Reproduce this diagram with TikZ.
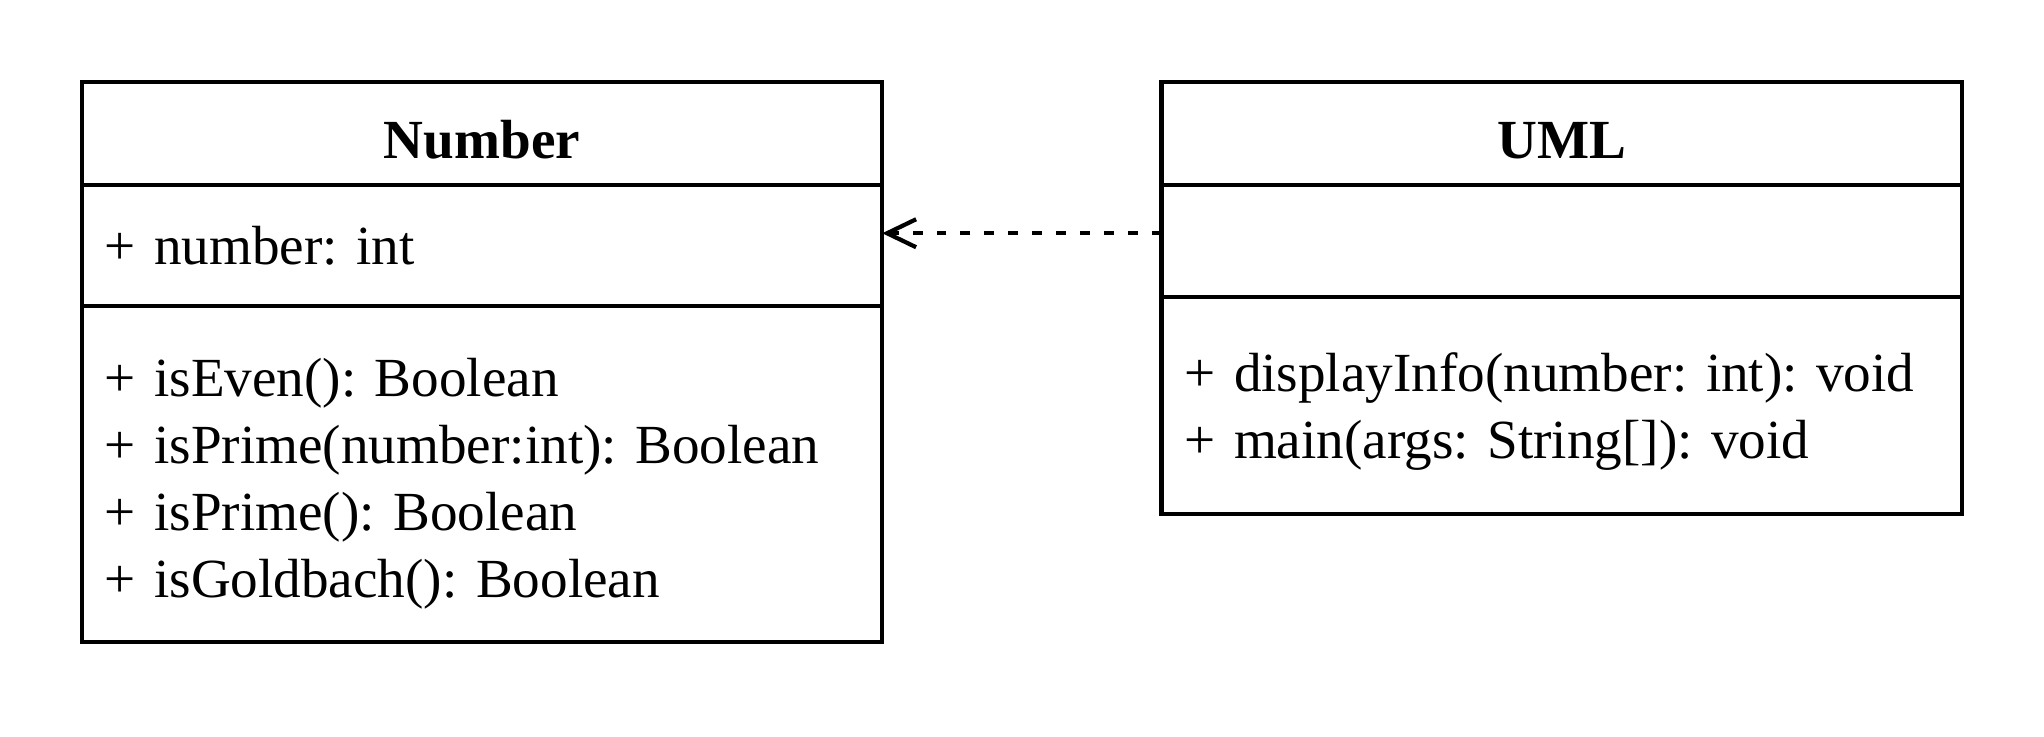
\documentclass[tikz,border=0pt]{standalone}
\usepackage{fontspec}
\setmainfont{Liberation Serif}
\usetikzlibrary{positioning,arrows.meta}
\frenchspacing

\tikzset{
  part/.style={draw, line width=1.2pt, minimum width=8.005cm, text width=7.545cm,
    inner xsep=0.23cm, inner ysep=0pt, outer sep=0pt, align=left,
    font=\fontsize{15.7}{19}\selectfont},
  title/.style={part, align=center, minimum height=1.033cm, text height=0.5cm,
    font=\fontsize{15.7}{19}\selectfont\bfseries},
  dep/.style={line width=1.2pt, dash pattern=on 2.8pt off 4pt,
    -{Straight Barb[length=0.29cm,width=0.28cm]}}
}

\begin{document}
\begin{tikzpicture}
\useasboundingbox (0,0) rectangle (20.44,7.36);

\node[title] (numTitle) at (4.82,6.024) {Number};
\node[part, minimum height=1.204cm, below=0pt of numTitle] (numAttr) {+ number: int};
\node[part, minimum height=3.363cm, text height=0.58cm, below=0pt of numAttr] (numOps)
  {+ isEven(): Boolean\\+ isPrime(number:int): Boolean\\+ isPrime(): Boolean\\+ isGoldbach(): Boolean};

\node[title] (umlTitle) at (15.6175,6.024) {UML};
\node[part, minimum height=1.12cm, below=0pt of umlTitle] (umlAttr) {};
\node[part, minimum height=2.167cm, text height=0.51cm, below=0pt of umlAttr] (umlOps)
  {+ displayInfo(number: int): void\\+ main(args: String[]): void};

\draw[dep] ([yshift=0.08cm]umlAttr.west) -- ([yshift=0.08cm]umlAttr.west -| numAttr.east);

\end{tikzpicture}
\end{document}
